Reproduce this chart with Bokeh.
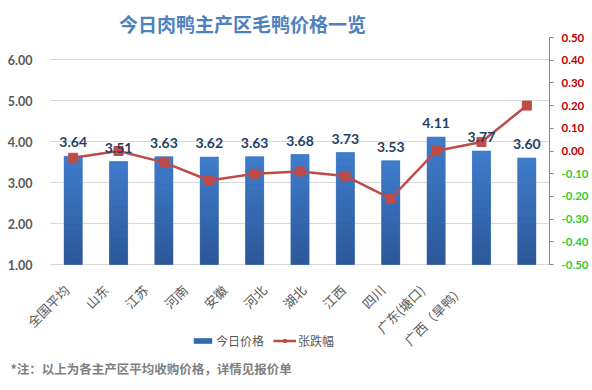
import math
from bokeh.plotting import figure
from bokeh.core.properties import value
from bokeh.models import (ColumnDataSource, Range1d, LinearAxis, FixedTicker, Label,
                          LabelSet, Legend, LegendItem, CustomJSTickFormatter, NumeralTickFormatter)
from bokeh.embed import file_html
from bokeh.resources import INLINE

# ---- data ----
regions = ["全国平均", "山东", "江苏", "河南", "安徽", "河北", "湖北", "江西", "四川", "广东(塘口)", "广西（旱鸭）"]
prices = [3.64, 3.51, 3.63, 3.62, 3.63, 3.68, 3.73, 3.53, 4.11, 3.77, 3.60]
changes = [-0.03, 0.00, -0.05, -0.13, -0.10, -0.09, -0.11, -0.21, 0.00, 0.04, 0.20]
left_ticks = [1, 2, 3, 4, 5, 6]
pos_ticks = [0.0, 0.1, 0.2, 0.3, 0.4, 0.5]
neg_ticks = [-0.5, -0.4, -0.3, -0.2, -0.1]
title_text = "今日肉鸭主产区毛鸭价格一览"
note_text = "*注：以上为各主产区平均收购价格，详情见报价单"
bar_name = "今日价格"
line_name = "张跌幅"

CJK = "Noto Sans CJK SC"
NUM = "Lato"

# ---- layout (pixels on the 592x390 canvas) ----
W, H = 592, 390
PL, PR, PT, PB = 50, 549, 37, 264        # plot area
n = len(regions)
idx = list(range(n))
xu = (PR - PL) / n                        # px per category
yu = 41.0                                 # px per price unit
pu = (PB - PT) / 1.0                      # px per pct unit
lu, l0 = 39.5, 66                         # category-label spacing / first position

x_range = Range1d(-0.5 - PL / xu, n - 0.5 + (W - PR) / xu)
y_range = Range1d(1 - (H - PB) / yu, 1 + PB / yu)

src = ColumnDataSource(dict(x=idx, p=prices, c=changes, lbl=[f"{v:.2f}" for v in prices]))
grid_src = ColumnDataSource(dict(y=left_ticks, x0=[-0.5] * len(left_ticks), x1=[n - 0.5] * len(left_ticks)))

# vertical colour gradient for the bars (style only, slices of each bar)
K = 16
c_bot, c_top = (0x2B, 0x57, 0x98), (0x40, 0x7D, 0xCC)
gx, gb, gt, gc = [], [], [], []
for i, v in zip(idx, prices):
    for k in range(K):
        f = (k + 0.5) / K
        gx.append(i)
        gb.append(1 + (v - 1) * k / K)
        gt.append(1 + (v - 1) * (k + 1) / K)
        gc.append("#%02x%02x%02x" % tuple(round(a + (b - a) * f) for a, b in zip(c_bot, c_top)))
grad_src = ColumnDataSource(dict(x=gx, b=gb, t=gt, c=gc))

p = figure(width=W, height=H, x_range=x_range, y_range=y_range,
           x_axis_location=None, y_axis_location=None,
           output_backend="svg", toolbar_location=None, min_border=0)
p.extra_y_ranges = {"pct": Range1d(-0.5 - (H - PB) / pu, -0.5 + PB / pu)}
p.extra_x_ranges = {"lbl": Range1d(-l0 / lu, (W - l0) / lu)}
p.outline_line_color = None
p.background_fill_color = "white"
p.border_fill_color = "white"
p.grid.visible = False

# gridlines over the plot area only
p.segment(x0="x0", x1="x1", y0="y", y1="y", source=grid_src, line_color="#D9D9D9", line_width=1)

# left axis
ya = LinearAxis(ticker=FixedTicker(ticks=left_ticks), formatter=NumeralTickFormatter(format="0.00"),
                fixed_location=-0.5)
ya.axis_line_color = None
ya.major_tick_line_color = None
ya.minor_tick_line_color = None
ya.major_label_text_font = NUM
ya.major_label_text_font_size = "12.5px"
ya.major_label_text_font_style = "bold"
ya.major_label_text_color = "#595959"
ya.major_label_standoff = 12
p.add_layout(ya, "left")

# category labels
la = LinearAxis(x_range_name="lbl", ticker=FixedTicker(ticks=idx),
                formatter=CustomJSTickFormatter(args=dict(names=regions),
                                                code="return names[Math.round(tick)] || ''"),
                fixed_location=1)
la.axis_line_color = None
la.major_tick_line_color = None
la.minor_tick_line_color = None
la.major_label_orientation = math.pi / 4
la.major_label_text_font = CJK
la.major_label_text_font_size = "13px"
la.major_label_text_color = "#595959"
la.major_label_standoff = 17
p.add_layout(la, "below")

# right axes: red for >= 0, green for < 0
for ticks, col in ((pos_ticks, "#C00000"), (neg_ticks, "#33CC33")):
    ra = LinearAxis(y_range_name="pct", ticker=FixedTicker(ticks=ticks),
                    formatter=NumeralTickFormatter(format="0.00"), fixed_location=n - 0.5,
                    bounds=(-0.5, 0.5))
    ra.axis_line_color = "#868686"
    ra.major_tick_line_color = "#868686"
    ra.major_tick_in = 0
    ra.major_tick_out = 4
    ra.minor_tick_line_color = None
    ra.major_label_text_font = NUM
    ra.major_label_text_font_size = "11.5px"
    ra.major_label_text_font_style = "bold"
    ra.major_label_text_color = col
    ra.major_label_standoff = 8
    p.add_layout(ra, "right")

# bars
bars = p.vbar(x="x", top="p", bottom=1, width=0.4, source=src,
              fill_color="#3468B0", line_color=None)
p.vbar(x="x", top="t", bottom="b", width=0.4, source=grad_src,
       fill_color="c", line_color="c", line_width=0.5)
p.add_layout(LabelSet(x="x", y="p", text="lbl", source=src, text_align="center",
                      text_baseline="bottom", y_offset=9, text_font=value(NUM),
                      text_font_size="14px", text_font_style="bold", text_color="#1F3F66"))

# line
ln = p.line(x="x", y="c", source=src, y_range_name="pct", line_color="#BE4B48", line_width=2.5)
mk = p.scatter(x="x", y="c", source=src, y_range_name="pct", marker="square", size=9,
               fill_color="#BE4B48", line_color="#BE4B48")

legend = Legend(items=[LegendItem(label=bar_name, renderers=[bars]),
                       LegendItem(label=line_name, renderers=[ln, mk])],
                orientation="horizontal", location=(191, 41),
                label_text_font=CJK, label_text_font_size="12px", label_text_color="#595959",
                glyph_width=23, glyph_height=7, label_standoff=2, spacing=9,
                padding=0, margin=0, border_line_color=None, background_fill_alpha=0)
p.add_layout(legend, "center")

# title & note (screen units: canvas, from bottom-left)
p.add_layout(Label(x=242, y=H - 23, x_units="screen", y_units="screen",
                   text=title_text, text_font=CJK, text_font_size="19px", text_font_style="bold",
                   text_color="#4F81BD", text_align="center", text_baseline="middle"))
p.add_layout(Label(x=10, y=H - 368, x_units="screen", y_units="screen",
                   text=note_text, text_font=CJK, text_font_size="12.5px", text_font_style="bold",
                   text_color="#7F7F7F", text_align="left", text_baseline="middle"))

open("out.html", "w").write(file_html(p, INLINE))
